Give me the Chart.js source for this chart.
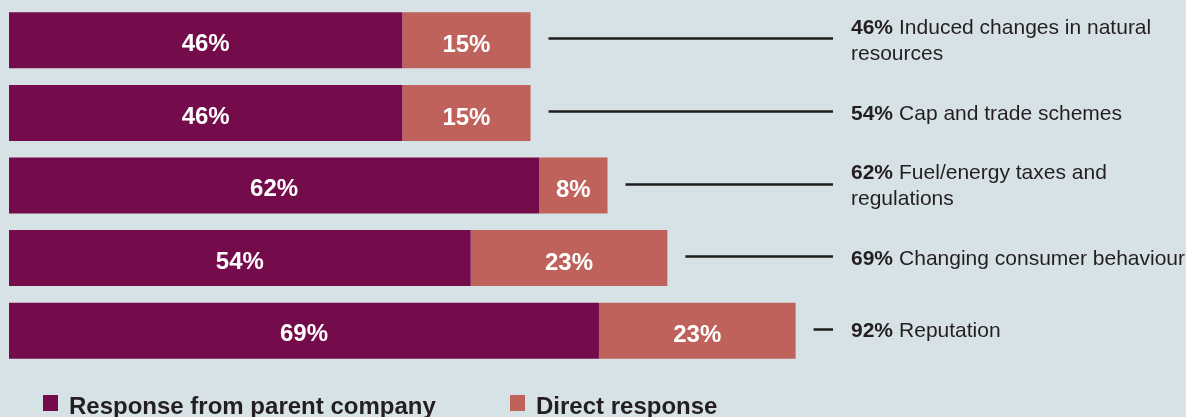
<!DOCTYPE html>
<html>
<head>
<meta charset="utf-8">
<script src="https://cdn.jsdelivr.net/npm/chart.js@4/dist/chart.umd.min.js"></script>
<style>
  html, body { margin: 0; padding: 0; background: #d7e2e7; }
  canvas { display: block; }
</style>
</head>
<body>
<canvas id="myChart" width="1186" height="417"></canvas>
<script>
// Data

const categories = [
  "Induced changes in natural resources",
  "Cap and trade schemes",
  "Fuel/energy taxes and regulations",
  "Changing consumer behaviour",
  "Reputation",
];
const parentResponse = [46, 46, 62, 54, 69];
const directResponse = [15, 15, 8, 23, 23];
const totalPct = [46, 54, 62, 69, 92];
const sideText = [
  ["Induced changes in natural", "resources"],
  ["Cap and trade schemes"],
  ["Fuel/energy taxes and", "regulations"],
  ["Changing consumer behaviour"],
  ["Reputation"],
];
const seriesNames = ["Response from parent company", "Direct response"];

const purple = "#740b4b";
const salmon = "#bf625b";
const ink = "#231f20";

// Labels inside bars, leader lines, side text and legend

const annotate = {
  id: "annotate",
  afterDatasetsDraw(chart) {
    const c = chart.ctx;
    const meta0 = chart.getDatasetMeta(0);
    const meta1 = chart.getDatasetMeta(1);

    c.save();
    c.fillStyle = "#ffffff";
    c.font = "bold 24px 'Liberation Sans', Arial, sans-serif";
    c.textAlign = "center";
    c.textBaseline = "middle";
    meta0.data.forEach((bar, i) => {
      c.fillText(parentResponse[i] + "%", (bar.base + bar.x) / 2, bar.y + 4);
    });
    meta1.data.forEach((bar, i) => {
      c.fillText(directResponse[i] + "%", (bar.base + bar.x) / 2, bar.y + 5);
    });

    const lineEnd = 833;
    const textX = 851;
    meta1.data.forEach((bar, i) => {
      const ly = Math.round(bar.y) - 1.5;
      c.strokeStyle = "#1e1e1e";
      c.lineWidth = 2.5;
      c.beginPath();
      c.moveTo(bar.x + 18, ly);
      c.lineTo(lineEnd, ly);
      c.stroke();

      const lines = sideText[i];
      const lh = 26;
      let y = bar.y + 1 - ((lines.length - 1) * lh) / 2;
      c.fillStyle = ink;
      c.textAlign = "left";
      lines.forEach((txt, k) => {
        let x = textX;
        if (k === 0) {
          c.font = "bold 21px 'Liberation Sans', Arial, sans-serif";
          const pct = totalPct[i] + "%";
          c.fillText(pct, x, y);
          x += c.measureText(pct).width + 6;
        }
        c.font = "21px 'Liberation Sans', Arial, sans-serif";
        c.fillText(txt, x, y);
        y += lh;
      });
    });

    // legend
    const legendX = [43, 510];
    const colors = [purple, salmon];
    c.font = "bold 24px 'Liberation Sans', Arial, sans-serif";
    c.textBaseline = "alphabetic";
    seriesNames.forEach((name, i) => {
      c.fillStyle = colors[i];
      c.fillRect(legendX[i], 395, 15, 16);
      c.fillStyle = ink;
      c.fillText(name, legendX[i] + 26, 414);
    });
    c.restore();
  },
};

const ctx = document.getElementById("myChart");

new Chart(ctx, {
  type: "bar",
  data: {
    labels: categories,
    datasets: [
      {
        label: seriesNames[0],
        data: parentResponse,
        backgroundColor: purple,
        borderWidth: 0,
      },
      {
        label: seriesNames[1],
        data: directResponse,
        backgroundColor: salmon,
        borderWidth: 0,
      },
    ],
  },
  options: {
    indexAxis: "y",
    responsive: false,
    animation: false,
    layout: {
      padding: { left: 9, right: 322, top: 4, bottom: 50 },
    },
    datasets: {
      bar: {
        categoryPercentage: 1,
        barPercentage: 0.772,
      },
    },
    scales: {
      x: { stacked: true, min: 0, max: 100, display: false },
      y: { stacked: true, display: false },
    },
    plugins: {
      legend: { display: false },
      tooltip: { enabled: false },
    },
  },
  plugins: [annotate],
});
</script>
</body>
</html>
